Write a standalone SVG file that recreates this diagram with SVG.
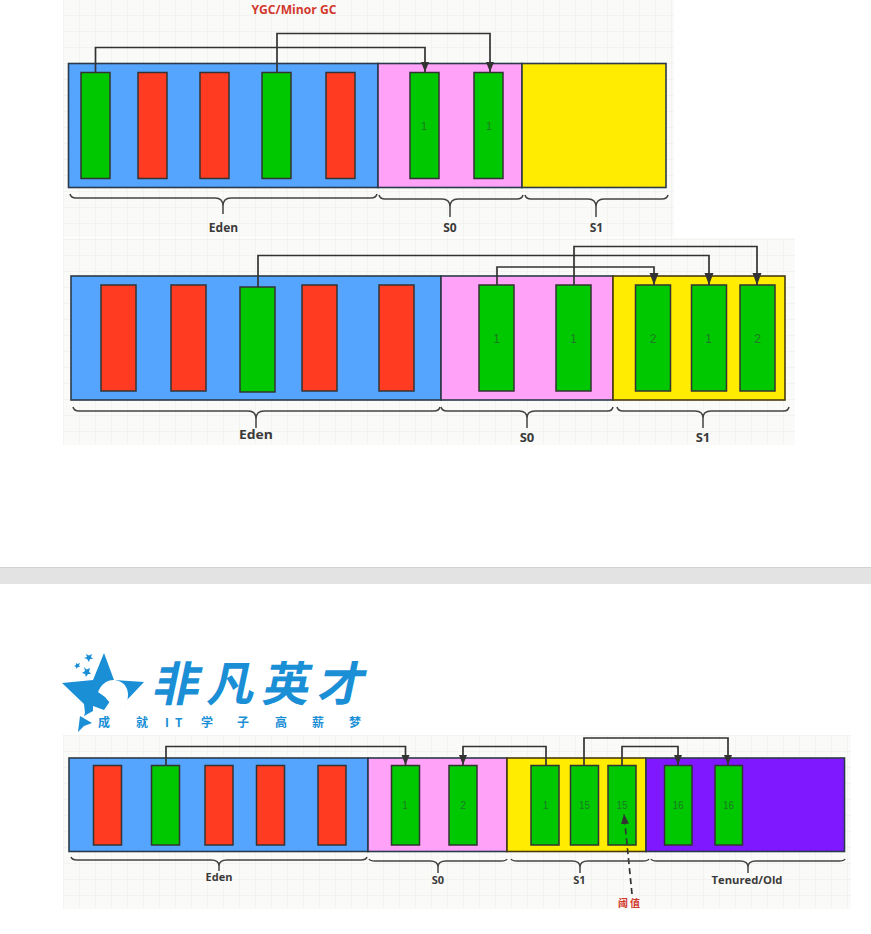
<svg xmlns="http://www.w3.org/2000/svg" width="871" height="934" viewBox="0 0 871 934">
<style>
.sp{stroke:#2b3a4a;stroke-width:1.6}
.g{fill:#00c800;stroke:#333;stroke-width:1.5}
.r{fill:#ff3c22;stroke:#333;stroke-width:1.5}
.eden{fill:#55a5ff}.s0{fill:#ffa2f8}.s1{fill:#ffec00}.old{fill:#7f18ff}
.n{font-family:"Liberation Sans",Arial,sans-serif;fill:#1c7a24;text-anchor:middle}
.lb{font-family:"Open Sans","Liberation Sans",sans-serif;font-weight:700;fill:#3a3a3a;text-anchor:middle}
.c{fill:none;stroke:#333;stroke-width:1.7}
.br{fill:none;stroke:#444;stroke-width:1.5}
.logo{font-family:"Noto Sans CJK SC","Noto Sans",sans-serif;font-weight:700;fill:#1a8fd6}
</style>
<defs>
<pattern id="grid" width="16" height="16" patternUnits="userSpaceOnUse">
<rect width="16" height="16" fill="#fafbf8"/>
<path d="M16 0V16M0 16H16" fill="none" stroke="#eceee8" stroke-width="1"/>
</pattern>
<marker id="a" markerUnits="userSpaceOnUse" markerWidth="12" markerHeight="10" refX="10" refY="4" orient="auto"><path d="M0 0L10 4L0 8Z" fill="#333"/></marker>
<marker id="b" markerUnits="userSpaceOnUse" markerWidth="14" markerHeight="10" refX="12" refY="4.500" orient="auto"><path d="M0 0L12 4.500L0 9Z" fill="#333"/></marker>
</defs>
<rect width="871" height="934" fill="#fff"/>

<!-- panel backgrounds -->
<rect x="63" y="0" width="611" height="237" fill="url(#grid)"/>
<rect x="63" y="238" width="732" height="207" fill="url(#grid)"/>
<rect x="63" y="735" width="788" height="174" fill="url(#grid)"/>
<rect x="0" y="567" width="871" height="17" fill="#e3e3e3"/>
<path d="M0 567.5H871" stroke="#d2d2d2" stroke-width="1"/>

<text x="294" y="14" font-family="'Open Sans','Liberation Sans',sans-serif" font-weight="700" font-size="12" fill="#d2392e" text-anchor="middle" textLength="85" lengthAdjust="spacingAndGlyphs">YGC/Minor GC</text>

<!-- Panel 1 -->
<g id="p1-eden"><rect class="eden sp" x="68.5" y="63.5" width="309.5" height="124"/></g>
<g id="p1-s0"><rect class="s0 sp" x="378" y="63.5" width="144" height="124"/></g>
<g id="p1-s1"><rect class="s1 sp" x="522" y="63.5" width="144" height="124"/></g>
<g id="p1-blocks">
<rect class="g" x="81" y="72.5" width="29" height="106"/>
<rect class="r" x="138" y="72.5" width="29" height="106"/>
<rect class="r" x="200" y="72.5" width="29" height="106"/>
<rect class="g" x="262" y="72.5" width="29" height="106"/>
<rect class="r" x="326" y="72.5" width="29" height="106"/>
<rect class="g" x="410" y="72.5" width="29" height="106"/>
<rect class="g" x="474" y="72.5" width="29" height="106"/>
<text class="n" font-size="11" x="424" y="130">1</text>
<text class="n" font-size="11" x="489" y="130">1</text>
</g>
<g id="p1-connectors">
<path class="c" marker-end="url(#a)" d="M95.5 72V47.5H425V72"/>
<path class="c" marker-end="url(#a)" d="M277 72V33.5H490V72"/>
</g>
<g id="p1-labels">
<path class="br" d="M70 194Q71 198 76 198H215Q223 198 223 206V214M223 206Q223 198 231 198H371Q376 198 377 194"/>
<path class="br" d="M379 195Q380 199 385 199H442Q450 199 450 207V217M450 207Q450 199 458 199H517Q522 199 523 195"/>
<path class="br" d="M525 195Q526 199 531 199H588Q596 199 596 207V217M596 207Q596 199 604 199H662Q667 199 668 195"/>
<text class="lb" font-size="12" x="223.500" y="232">Eden</text>
<text class="lb" font-size="12" x="450" y="232">S0</text>
<text class="lb" font-size="12" x="596.500" y="232">S1</text>
</g>

<!-- Panel 2 -->
<g id="p2-eden"><rect class="eden sp" x="71" y="276" width="370" height="124"/></g>
<g id="p2-s0"><rect class="s0 sp" x="441" y="276" width="172" height="124"/></g>
<g id="p2-s1"><rect class="s1 sp" x="613" y="276" width="172" height="124" style="stroke:#4a3a10"/></g>
<g id="p2-blocks">
<rect class="r" x="101" y="285" width="35" height="106"/>
<rect class="r" x="171" y="285" width="35" height="106"/>
<rect class="g" x="240" y="287" width="35" height="105"/>
<rect class="r" x="302" y="285" width="35" height="106"/>
<rect class="r" x="379" y="285" width="35" height="106"/>
<rect class="g" x="479" y="285" width="35" height="106"/>
<rect class="g" x="556" y="285" width="35" height="106"/>
<rect class="g" x="635.500" y="285" width="35" height="106"/>
<rect class="g" x="691.500" y="285" width="35" height="106"/>
<rect class="g" x="740" y="285" width="35" height="106"/>
<text class="n" font-size="12" x="496.500" y="343">1</text>
<text class="n" font-size="12" x="573.500" y="343">1</text>
<text class="n" font-size="12" x="653" y="343">2</text>
<text class="n" font-size="12" x="708.500" y="343">1</text>
<text class="n" font-size="12" x="757.500" y="343">2</text>
</g>
<g id="p2-connectors">
<path class="c" marker-end="url(#b)" d="M258 287V255.500H709V285"/>
<path class="c" marker-end="url(#b)" d="M497 285V267H654V285"/>
<path class="c" marker-end="url(#b)" d="M574 285V246.500H757V285"/>
</g>
<g id="p2-labels">
<path class="br" d="M73 407Q74 411 79 411H248Q256 411 256 419V428M256 419Q256 411 264 411H434Q439 411 440 407"/>
<path class="br" d="M441 407Q442 411 447 411H519Q527 411 527 418V428M527 418Q527 411 535 411H608Q612 411 613 407"/>
<path class="br" d="M617 407Q618 411 623 411H695Q703 411 703 418V428M703 418Q703 411 711 411H784Q788 411 789 407"/>
<text class="lb" font-size="13" x="256" y="439" textLength="34" lengthAdjust="spacingAndGlyphs">Eden</text>
<text class="lb" font-size="13" x="527" y="442">S0</text>
<text class="lb" font-size="13" x="703" y="442">S1</text>
</g>

<!-- Logo -->
<g id="logo">
<path fill="#1a8fd6" d="M104 653L114 680L144 682L127 700L125 707L113 697L104 710L93 706L93 711L84 716L78 732L85 713L84 704L62 683L93 680Z"/>
<path fill="#fff" d="M100 688Q106 679 115 680Q127 682 128 694Q128 703 124 709Q117 700 110 703L105 697L98 692Z"/>
<path fill="#1a8fd6" d="M78 732L80 716L92 723L84 726Z"/>
<path fill="#1a8fd6" d="M86 654L89 655.500L92 654L91 657L93 659L90 659L89 662L87 659L84 658L87 657Z"/>
<path fill="#1a8fd6" d="M76 663L77.500 664L80 663L79 665.500L80 667L78 667L76.500 669L76 667L74 666L76 665Z"/>
<path fill="#1a8fd6" d="M84 667L86.500 669.500L90 668L89 671.500L91 674L88 674L86 677L85 674L82 673L85 671Z"/>
<text class="logo" font-size="47" transform="translate(151 701) skewX(-12)" x="0" y="0" textLength="212" lengthAdjust="spacing">非凡英才</text>
<text class="logo" font-size="12" x="98 136 165 175 201 237 275 312 349" y="727">成就IT学子高薪梦</text>
</g>

<!-- Panel 3 -->
<g id="p3-eden"><rect class="eden sp" x="69" y="758" width="299" height="93.500"/></g>
<g id="p3-s0"><rect class="s0 sp" x="368" y="758" width="139" height="93.500"/></g>
<g id="p3-s1"><rect class="s1 sp" x="507" y="758" width="139" height="93.500" style="stroke:#4a3a10"/></g>
<g id="p3-old"><rect class="old sp" x="646" y="758" width="198.500" height="93.500"/></g>
<g id="p3-blocks">
<rect class="r" x="93.500" y="765.500" width="28" height="79.500"/>
<rect class="g" x="151.500" y="765.500" width="28" height="79.500"/>
<rect class="r" x="205" y="765.500" width="28" height="79.500"/>
<rect class="r" x="256.500" y="765.500" width="28" height="79.500"/>
<rect class="r" x="318" y="765.500" width="28" height="79.500"/>
<rect class="g" x="391.500" y="765.500" width="28" height="79.500"/>
<rect class="g" x="449" y="765.500" width="28" height="79.500"/>
<rect class="g" x="531" y="765.500" width="28" height="79.500"/>
<rect class="g" x="570.500" y="765.500" width="28" height="79.500"/>
<rect class="g" x="608" y="765.500" width="28" height="79.500"/>
<rect class="g" x="664.500" y="765.500" width="27.500" height="79.500"/>
<rect class="g" x="715" y="765.500" width="27.500" height="79.500"/>
<text class="n" font-size="10" x="405" y="809">1</text>
<text class="n" font-size="10" x="463" y="809">2</text>
<text class="n" font-size="10" x="545.500" y="809">1</text>
<text class="n" font-size="10" x="584.500" y="809">15</text>
<text class="n" font-size="10" x="622" y="809">15</text>
<text class="n" font-size="10" x="678" y="809">16</text>
<text class="n" font-size="10" x="728.500" y="809">16</text>
</g>
<g id="p3-connectors">
<path class="c" marker-end="url(#a)" d="M166 765V746.500H405.500V765"/>
<path class="c" marker-end="url(#a)" d="M546 765V746.500H463V765"/>
<path class="c" marker-end="url(#a)" d="M584 765V738H728V765"/>
<path class="c" marker-end="url(#a)" d="M622 765V746.500H678V765"/>
<path class="c" stroke-dasharray="6 4" marker-end="url(#a)" d="M632 894L624 814"/>
</g>
<g id="p3-labels">
<path class="br" d="M71 857Q72 860 77 860H211Q219 860 219 866V871M219 866Q219 860 227 860H361Q366 860 367 857"/>
<path class="br" d="M369 859Q370 861 375 861H430Q438 861 438 867V873M438 867Q438 861 446 861H501Q506 861 507 859"/>
<path class="br" d="M511 859Q512 861 517 861H572Q580 861 580 867V873M580 867Q580 861 588 861H643Q648 861 649 859"/>
<path class="br" d="M651 859Q652 861 657 861H740Q748 861 748 867V873M748 867Q748 861 756 861H839Q844 861 845 859"/>
<text class="lb" font-size="11" x="219" y="881" textLength="27" lengthAdjust="spacingAndGlyphs">Eden</text>
<text class="lb" font-size="11" x="438" y="884">S0</text>
<text class="lb" font-size="11" x="579.500" y="884">S1</text>
<text class="lb" font-size="11" x="747" y="884" textLength="71" lengthAdjust="spacingAndGlyphs">Tenured/Old</text>
<text x="630" y="907" font-family="'Noto Sans CJK SC',sans-serif" font-weight="700" font-size="10" fill="#d2392e" text-anchor="middle" letter-spacing="2">阈值</text>
</g>
</svg>
